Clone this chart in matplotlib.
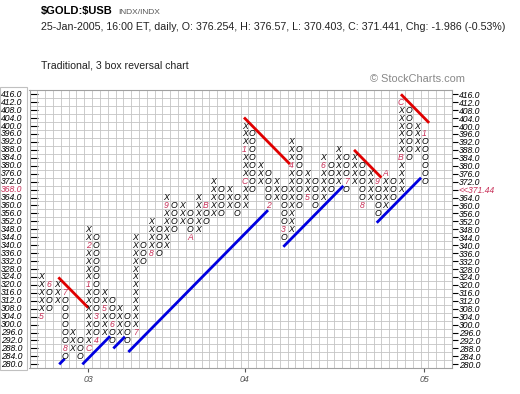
import matplotlib
matplotlib.use('Agg')
import matplotlib.pyplot as plt
from matplotlib.patches import Rectangle

# point & figure columns, box = 4, 3 box reversal
col_kind = list('XO' * 25)
col_low = [304, 308, 312, 284, 288, 284, 288, 292, 296, 292,
           296, 292, 296, 332, 336, 336, 340, 348, 352, 344,
           348, 352, 356, 356, 360, 356, 360, 368, 372, 360,
           364, 344, 348, 360, 364, 360, 364, 368, 372, 368,
           372, 360, 364, 356, 360, 364, 368, 384, 388, 372]
col_high = [324, 320, 320, 316, 296, 292, 348, 344, 316, 312,
            308, 304, 344, 340, 352, 348, 364, 360, 360, 356,
            364, 360, 372, 368, 368, 364, 400, 396, 380, 376,
            372, 368, 392, 388, 376, 372, 384, 380, 388, 384,
            384, 380, 376, 372, 376, 372, 412, 408, 400, 396]

# month markers (1-9, A=Oct, B=Nov, C=Dec)
month_col = [0, 1, 3, 3, 6, 6, 6, 7, 7, 8, 9, 12, 14, 16, 19, 21,
             26, 26, 29, 31, 32, 34, 36, 39, 41, 43, 44, 46, 46, 49]
month_val = [304, 320, 316, 288, 288, 320, 340, 304, 292, 308, 300, 296, 336, 360, 344, 360,
             372, 388, 360, 348, 380, 364, 380, 372, 360, 372, 376, 384, 412, 396]
month_lab = ['5', '6', '7', '8', 'C', '1', '2', '3', '4', '5', '6', '7', '8', '9', 'A', 'B',
             'C', '1', '2', '3', '4', '5', '6', '7', '8', '9', 'A', 'B', 'C', '1']

# trend lines: start column, start price, end column (45 degree)
sup_c0 = [2.3, 5.26, 9.22, 11.14, 30.96, 42.9]
sup_v0 = [280, 280, 288, 286.2, 339.2, 351.3]
sup_c1 = [3.0, 8.8, 10.7, 29.0, 38.63, 48.57]
res_c0 = [2.19, 25.93, 40.0, 46.0]
res_v0 = [323.8, 404.3, 388, 416]
res_c1 = [6.02, 31.8, 43.5, 49.6]

price_ticks = list(range(280, 417, 4))
last_close = 371.44
year_cols = [6, 26, 49]
year_labels = ['03', '04', '05']

W, H = 520, 394
fig = plt.figure(figsize=(W / 100, H / 100), dpi=100)
ax = fig.add_axes([29.5 / W, 1 - 368.3 / H, 422.3 / W, 278 / H])
ax.set_xlim(-1.5, 52.5)
ax.set_ylim(278, 418)

# grid
ax.set_xticks([c + 0.5 for c in range(-2, 53)], minor=True)
ax.set_yticks([v + 2 for v in range(276, 420, 4)], minor=True)
ax.grid(which='minor', color='#c4c4c4', lw=0.6)
ax.tick_params(which='minor', length=0)
for s in ax.spines.values():
    s.set_color('#a0a0a0')
    s.set_linewidth(0.8)

red = '#c83058'
for c in range(len(col_kind)):
    for v in range(col_low[c], col_high[c] + 1, 4):
        s, clr = col_kind[c], 'black'
        for mc, mv, ml in zip(month_col, month_val, month_lab):
            if mc == c and mv == v:
                s, clr = ml, red
        ax.text(c, v, s, ha='center', va='center', fontsize=6.2,
                style='italic', color=clr, family='Liberation Sans')

for c0, v0, c1 in zip(sup_c0, sup_v0, sup_c1):
    ax.plot([c0, c1], [v0, v0 + 4 * (c1 - c0)], color='#0000e0', lw=2, solid_capstyle='butt')
for c0, v0, c1 in zip(res_c0, res_v0, res_c1):
    ax.plot([c0, c1], [v0, v0 - 4 * (c1 - c0)], color='#e00000', lw=2, solid_capstyle='butt')

# right price scale
ax.yaxis.tick_right()
ax.set_yticks(price_ticks)
ax.set_yticklabels(['<<%.2f' % last_close if v == 368 else '%.1f' % v for v in price_ticks])
for lab, v in zip(ax.get_yticklabels(), price_ticks):
    lab.set_style('italic')
    lab.set_family('Liberation Sans')
    if v == 368:
        lab.set_color(red)
ax.tick_params(axis='y', which='major', length=4, width=0.8, pad=1, labelsize=6.2)

# short marks on the left edge
lax = ax.secondary_yaxis('left')
lax.set_yticks(price_ticks)
lax.set_yticklabels([])
lax.tick_params(direction='in', length=6, width=0.8)
lax.spines['left'].set_visible(False)

# bottom years
ax.set_xticks(year_cols)
ax.set_xticklabels(year_labels, style='italic', family='Liberation Sans', color='#333333')
ax.tick_params(axis='x', which='major', length=3, width=0.8, pad=2, labelsize=6.3, colors='#555555')

# left price scale box
fig.patches.append(Rectangle((0, 1 - 370 / H), 27 / W, 283 / H, transform=fig.transFigure,
                             fill=False, edgecolor='#c0c0c0', lw=0.8))
for v in price_ticks:
    yf = ax.transData.transform((0, v))[1] / H
    fig.text(1 / W, yf, '%.1f' % v, ha='left', va='center', fontsize=6.2, style='italic',
             family='Liberation Sans', color=red if v == 368 else 'black')

# header
fig.text(41 / W, 1 - 11 / H, r'\$GOLD:\$USB', fontsize=8, weight='bold', va='center',
         family='Liberation Sans')
fig.text(118 / W, 1 - 12 / H, 'INDX/INDX', fontsize=6, va='center', color='#555555',
         family='Liberation Sans')
fig.text(41 / W, 1 - 27 / H,
         '25-Jan-2005, 16:00 ET, daily, O: 376.254, H: 376.57, L: 370.403, C: 371.441, Chg: -1.986 (-0.53%)',
         fontsize=7.7, va='center', family='Liberation Sans', color='#222222')
fig.text(41 / W, 1 - 65 / H, 'Traditional, 3 box reversal chart', fontsize=7.6, va='center',
         family='Liberation Sans', color='#222222')
fig.text(370 / W, 1 - 79 / H, '\u00a9 StockCharts.com', fontsize=7.9, va='center',
         family='Liberation Sans', color='#888888')

fig.savefig('out.png', dpi=100)
